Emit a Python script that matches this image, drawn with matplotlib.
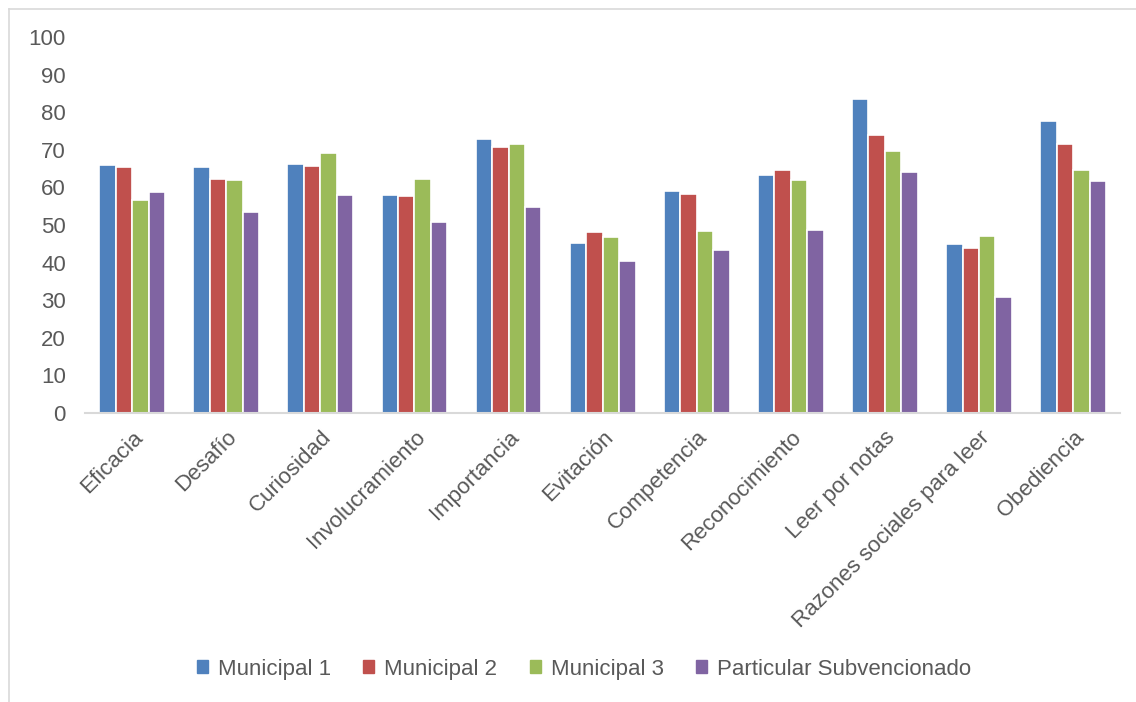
import numpy as np
import matplotlib.pyplot as plt
from matplotlib.lines import Line2D

# mean scores per reading-motivation dimension, by school type
categories = ["Eficacia", "Desafío", "Curiosidad", "Involucramiento", "Importancia",
              "Evitación", "Competencia", "Reconocimiento", "Leer por notas",
              "Razones sociales para leer", "Obediencia"]
municipal_1 = [66.1, 65.4, 66.3, 58.1, 72.8, 45.3, 59.0, 63.4, 83.5, 45.0, 77.7]
municipal_2 = [65.5, 62.2, 65.6, 57.6, 70.7, 48.1, 58.3, 64.7, 74.0, 43.9, 71.6]
municipal_3 = [56.7, 61.9, 69.2, 62.2, 71.5, 46.7, 48.4, 61.9, 69.7, 47.1, 64.6]
particular = [58.7, 53.5, 58.1, 50.8, 54.9, 40.3, 43.4, 48.6, 64.2, 30.8, 61.7]

series_names = ["Municipal 1", "Municipal 2", "Municipal 3", "Particular Subvencionado"]
series = [municipal_1, municipal_2, municipal_3, particular]
colors = ["#4f81bd", "#c0504d", "#9bbb59", "#8064a2"]

plt.rcParams['font.family'] = ['Liberation Sans', 'DejaVu Sans']
text_color = "#595959"

fig = plt.figure(figsize=(11.36, 7.02), dpi=100)
ax = fig.add_axes([0.075, 0.412, 0.911, 0.535])

x = np.arange(len(categories))
w = 0.175
for i, (vals, name, c) in enumerate(zip(series, series_names, colors)):
    ax.bar(x + (i - 1.5) * w, vals, width=w, color=c, edgecolor="white",
           linewidth=1.2, label=name, zorder=2)

ax.set_xlim(-0.5, len(categories) - 0.5)
ax.set_ylim(0, 100)
ax.set_yticks(range(0, 101, 10))
ax.set_xticks(x)
ax.set_xticklabels(categories, rotation=45, ha="right", rotation_mode="anchor",
                   fontsize=16, color=text_color)
ax.tick_params(axis="y", length=0, labelsize=16, labelcolor=text_color, pad=14)
ax.tick_params(axis="x", length=0, pad=10)

for s in ["top", "right", "left"]:
    ax.spines[s].set_visible(False)
ax.spines["bottom"].set_color("#d9d9d9")
ax.spines["bottom"].set_linewidth(1.5)

# legend under the chart
handles = [plt.Rectangle((0, 0), 1, 1, color=c) for c in colors]
fig.legend(handles, series_names, loc="center", bbox_to_anchor=(0.514, 0.047),
           ncol=4, frameon=False, fontsize=16, handlelength=0.5, handleheight=0.5,
           handletextpad=0.45, columnspacing=1.45, labelcolor=text_color)

# light chart-area border on the left and top
fig.add_artist(Line2D([0.0075, 0.0075], [0, 0.987], transform=fig.transFigure,
                      color="#d9d9d9", linewidth=1.2))
fig.add_artist(Line2D([0.0075, 1.0], [0.987, 0.987], transform=fig.transFigure,
                      color="#d9d9d9", linewidth=1.2))

fig.savefig("out.png", dpi=100, facecolor="white")
